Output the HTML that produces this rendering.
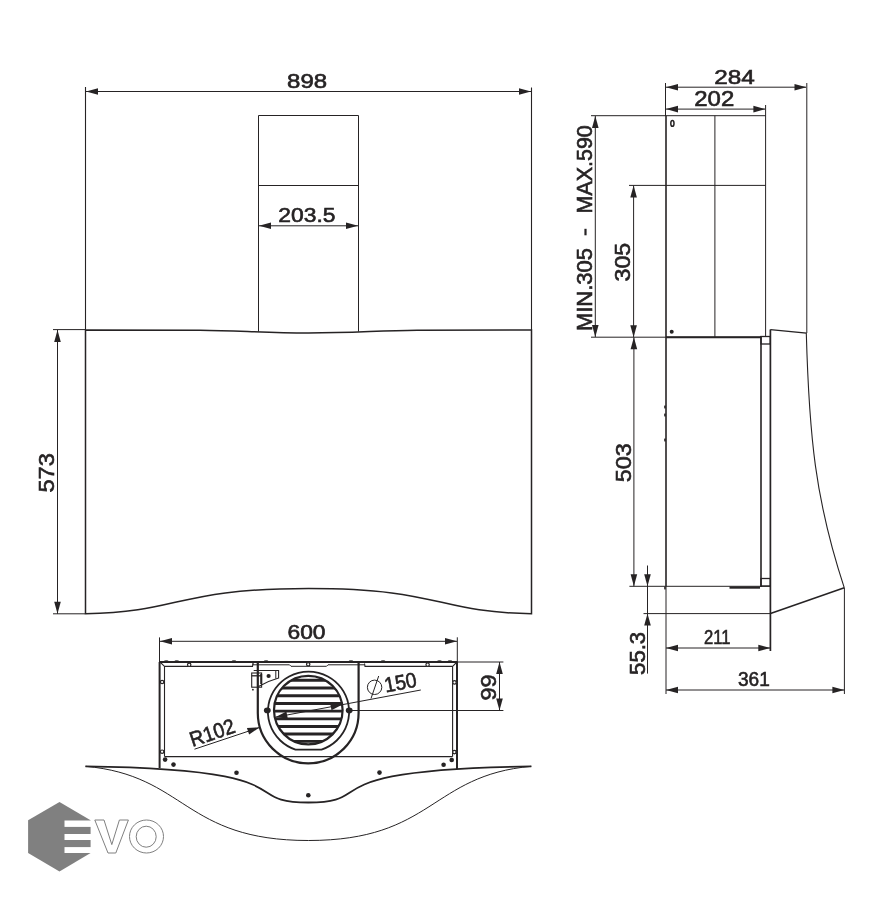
<!DOCTYPE html>
<html><head><meta charset="utf-8"><style>
html,body{margin:0;padding:0;background:#fff;width:893px;height:900px;overflow:hidden}
svg{display:block;will-change:transform}
text{font-family:"Liberation Sans",sans-serif}
</style></head><body>
<svg width="893" height="900" viewBox="0 0 893 900">
<rect width="893" height="900" fill="#fff"/>
<line x1="85.5" y1="87" x2="85.5" y2="330" stroke="#262324" stroke-width="1.1"/>
<line x1="531.5" y1="87.5" x2="531.5" y2="330" stroke="#262324" stroke-width="1.1"/>
<line x1="86" y1="91.5" x2="531" y2="91.5" stroke="#262324" stroke-width="1.0"/>
<polygon points="86.00,91.50 98.00,88.20 98.00,94.80" fill="#262324"/>
<polygon points="531.00,91.50 519.00,94.80 519.00,88.20" fill="#262324"/>
<text x="307.10" y="87.84" font-size="20.42" text-anchor="middle" textLength="40.02" lengthAdjust="spacingAndGlyphs" fill="#262324" stroke="#262324" stroke-width="0.6">898</text>
<path d="M258.5,331.6 V115.5 H358.5 V331.6" fill="none" stroke="#262324" stroke-width="1"/>
<line x1="258.5" y1="185.5" x2="358.5" y2="185.5" stroke="#262324" stroke-width="1.0"/>
<line x1="259" y1="225.8" x2="358" y2="225.8" stroke="#262324" stroke-width="1.0"/>
<polygon points="259.00,225.80 271.00,222.50 271.00,229.10" fill="#262324"/>
<polygon points="358.00,225.80 346.00,229.10 346.00,222.50" fill="#262324"/>
<text x="306.95" y="222.34" font-size="20.28" text-anchor="middle" textLength="57.12" lengthAdjust="spacingAndGlyphs" fill="#262324" stroke="#262324" stroke-width="0.6">203.5</text>
<path d="M85.5,330 L200,330.2 C240,330.5 262,333 308.5,333 C355,333 377,330.5 417,330.2 L531.5,330 L531.5,613.8 C434.9,612.1 441.7,588.5 308.5,588.5 C175.3,588.5 182.1,612.1 85.5,613.8 Z" fill="none" stroke="#262324" stroke-width="1.5"/>
<line x1="53" y1="329.6" x2="85" y2="329.6" stroke="#262324" stroke-width="1.0"/>
<line x1="53" y1="613.8" x2="85" y2="613.8" stroke="#262324" stroke-width="1.0"/>
<line x1="57.5" y1="330" x2="57.5" y2="613.8" stroke="#262324" stroke-width="1.0"/>
<polygon points="57.50,330.00 60.80,342.00 54.20,342.00" fill="#262324"/>
<polygon points="57.50,613.80 54.20,601.80 60.80,601.80" fill="#262324"/>
<text transform="translate(53.80,472.85) rotate(-90)" x="0" y="0" font-size="21.40" text-anchor="middle" textLength="39.52" lengthAdjust="spacingAndGlyphs" fill="#262324" stroke="#262324" stroke-width="0.6">573</text>
<line x1="665.5" y1="83" x2="665.5" y2="116" stroke="#262324" stroke-width="1.0"/>
<line x1="806.8" y1="83" x2="806.8" y2="333" stroke="#262324" stroke-width="1.0"/>
<line x1="666" y1="87.2" x2="806" y2="87.2" stroke="#262324" stroke-width="1.0"/>
<polygon points="666.00,87.20 678.00,83.90 678.00,90.50" fill="#262324"/>
<polygon points="806.50,87.20 794.50,90.50 794.50,83.90" fill="#262324"/>
<text x="734.60" y="84.04" font-size="21.12" text-anchor="middle" textLength="40.62" lengthAdjust="spacingAndGlyphs" fill="#262324" stroke="#262324" stroke-width="0.6">284</text>
<line x1="765.6" y1="105" x2="765.6" y2="336" stroke="#262324" stroke-width="1.0"/>
<line x1="666" y1="109.1" x2="765" y2="109.1" stroke="#262324" stroke-width="1.0"/>
<polygon points="666.00,109.10 678.00,105.80 678.00,112.40" fill="#262324"/>
<polygon points="765.40,109.10 753.40,112.40 753.40,105.80" fill="#262324"/>
<text x="714.30" y="105.94" font-size="21.82" text-anchor="middle" textLength="40.02" lengthAdjust="spacingAndGlyphs" fill="#262324" stroke="#262324" stroke-width="0.6">202</text>
<line x1="591" y1="115.7" x2="765.6" y2="115.7" stroke="#262324" stroke-width="1.0"/>
<line x1="629" y1="185.4" x2="765.6" y2="185.4" stroke="#262324" stroke-width="1.0"/>
<line x1="666" y1="115.7" x2="666" y2="586.5" stroke="#262324" stroke-width="1.6"/>
<line x1="666" y1="586.5" x2="666" y2="694" stroke="#262324" stroke-width="1.0"/>
<ellipse cx="665" cy="407" rx="0.9" ry="1.8" fill="#262324"/>
<ellipse cx="665" cy="415" rx="0.9" ry="1.8" fill="#262324"/>
<ellipse cx="665" cy="440" rx="0.9" ry="1.8" fill="#262324"/>
<ellipse cx="665" cy="588" rx="0.9" ry="1.8" fill="#262324"/>
<line x1="714.9" y1="115.7" x2="714.9" y2="337" stroke="#262324" stroke-width="1.0"/>
<ellipse cx="672.4" cy="123.4" rx="1.6" ry="2.9" fill="none" stroke="#262324" stroke-width="1.5"/>
<circle cx="671.7" cy="331.8" r="2" fill="#262324"/>
<line x1="591" y1="337.2" x2="761" y2="337.2" stroke="#262324" stroke-width="1.0"/>
<line x1="666" y1="337.2" x2="761" y2="337.2" stroke="#262324" stroke-width="2.0"/>
<line x1="761" y1="336" x2="761" y2="587" stroke="#262324" stroke-width="1.6"/>
<line x1="770.4" y1="329.6" x2="770.4" y2="651" stroke="#262324" stroke-width="1.7"/>
<rect x="761" y="336.5" width="9.3" height="7.5" fill="none" stroke="#262324" stroke-width="1.3"/>
<rect x="761" y="578.5" width="9.3" height="7.5" fill="none" stroke="#262324" stroke-width="1.3"/>
<line x1="629.4" y1="586.3" x2="770" y2="586.3" stroke="#262324" stroke-width="1.0"/>
<line x1="729.5" y1="587.6" x2="760" y2="587.6" stroke="#262324" stroke-width="2.2"/>
<line x1="643.5" y1="613.6" x2="770.5" y2="613.6" stroke="#262324" stroke-width="1.0"/>
<path d="M770.4,329.6 L806.3,333.1 C809.1,435 815.1,499.5 844.3,587.8 " fill="none" stroke="#262324" stroke-width="1.1"/>
<path d="M844.3,587.8 L770.5,613.5" fill="none" stroke="#262324" stroke-width="1.5"/>
<line x1="844.4" y1="588" x2="844.4" y2="694" stroke="#262324" stroke-width="1.0"/>
<line x1="595.3" y1="116" x2="595.3" y2="337" stroke="#262324" stroke-width="1.0"/>
<polygon points="595.30,116.00 598.60,128.00 592.00,128.00" fill="#262324"/>
<polygon points="595.30,337.00 592.00,325.00 598.60,325.00" fill="#262324"/>
<text transform="translate(592.10,289.50) rotate(-90)" x="0" y="0" font-size="21.68" text-anchor="middle" textLength="83.22" lengthAdjust="spacingAndGlyphs" fill="#262324" stroke="#262324" stroke-width="0.6">MIN.305</text>
<text transform="translate(592.10,169.35) rotate(-90)" x="0" y="0" font-size="21.68" text-anchor="middle" textLength="88.32" lengthAdjust="spacingAndGlyphs" fill="#262324" stroke="#262324" stroke-width="0.6">MAX.590</text>
<line x1="585.5" y1="228.8" x2="585.5" y2="235.3" stroke="#262324" stroke-width="2.2"/>
<line x1="633.6" y1="185.5" x2="633.6" y2="337" stroke="#262324" stroke-width="1.0"/>
<polygon points="633.60,185.50 636.90,197.50 630.30,197.50" fill="#262324"/>
<polygon points="633.60,337.20 630.30,325.20 636.90,325.20" fill="#262324"/>
<text transform="translate(630.00,262.10) rotate(-90)" x="0" y="0" font-size="21.68" text-anchor="middle" textLength="38.82" lengthAdjust="spacingAndGlyphs" fill="#262324" stroke="#262324" stroke-width="0.6">305</text>
<line x1="633.9" y1="337.2" x2="633.9" y2="586.3" stroke="#262324" stroke-width="1.0"/>
<polygon points="633.90,337.20 637.20,349.20 630.60,349.20" fill="#262324"/>
<polygon points="633.90,586.30 630.60,574.30 637.20,574.30" fill="#262324"/>
<text transform="translate(630.60,462.75) rotate(-90)" x="0" y="0" font-size="21.68" text-anchor="middle" textLength="39.12" lengthAdjust="spacingAndGlyphs" fill="#262324" stroke="#262324" stroke-width="0.6">503</text>
<line x1="647.5" y1="565.5" x2="647.5" y2="673.6" stroke="#262324" stroke-width="1.0"/>
<polygon points="647.50,586.30 644.20,574.30 650.80,574.30" fill="#262324"/>
<polygon points="647.50,613.60 650.80,625.60 644.20,625.60" fill="#262324"/>
<text transform="translate(644.70,653.40) rotate(-90)" x="0" y="0" font-size="22.51" text-anchor="middle" textLength="43.02" lengthAdjust="spacingAndGlyphs" fill="#262324" stroke="#262324" stroke-width="0.6">55.3</text>
<line x1="666" y1="648" x2="770.3" y2="648" stroke="#262324" stroke-width="1.0"/>
<polygon points="666.00,648.00 678.00,644.70 678.00,651.30" fill="#262324"/>
<polygon points="770.30,648.00 758.30,651.30 758.30,644.70" fill="#262324"/>
<text x="717.25" y="644.14" font-size="20.00" text-anchor="middle" textLength="26.52" lengthAdjust="spacingAndGlyphs" fill="#262324" stroke="#262324" stroke-width="0.6">211</text>
<line x1="666" y1="690" x2="844.4" y2="690" stroke="#262324" stroke-width="1.0"/>
<polygon points="666.00,690.00 678.00,686.70 678.00,693.30" fill="#262324"/>
<polygon points="844.40,690.00 832.40,693.30 832.40,686.70" fill="#262324"/>
<text x="753.90" y="686.44" font-size="20.42" text-anchor="middle" textLength="31.82" lengthAdjust="spacingAndGlyphs" fill="#262324" stroke="#262324" stroke-width="0.6">361</text>
<line x1="159.5" y1="637.4" x2="159.5" y2="662" stroke="#262324" stroke-width="1.0"/>
<line x1="457.3" y1="637.3" x2="457.3" y2="662" stroke="#262324" stroke-width="1.0"/>
<line x1="160" y1="641.3" x2="457" y2="641.3" stroke="#262324" stroke-width="1.0"/>
<polygon points="160.00,641.30 172.00,638.00 172.00,644.60" fill="#262324"/>
<polygon points="457.00,641.30 445.00,644.60 445.00,638.00" fill="#262324"/>
<text x="306.50" y="638.64" font-size="19.30" text-anchor="middle" textLength="38.02" lengthAdjust="spacingAndGlyphs" fill="#262324" stroke="#262324" stroke-width="0.6">600</text>
<line x1="159.6" y1="662" x2="159.6" y2="768" stroke="#262324" stroke-width="2.0"/>
<line x1="457" y1="662" x2="457" y2="769" stroke="#262324" stroke-width="2.0"/>
<line x1="159" y1="662" x2="457.5" y2="662" stroke="#262324" stroke-width="2.0"/>
<path d="M160,662 L164.5,666.4 L164.5,756.5" fill="none" stroke="#262324" stroke-width="1.1"/>
<path d="M457,662 L452.6,666.4 L452.6,756.5" fill="none" stroke="#262324" stroke-width="1.1"/>
<path d="M164.5,666.4 L252.5,666.4 L253,663.5 M364.5,663.5 L365,666.4 L452.6,666.4" fill="none" stroke="#262324" stroke-width="1.1"/>
<line x1="164.5" y1="756.6" x2="452.6" y2="756.6" stroke="#262324" stroke-width="1.1"/>
<circle cx="189.2" cy="664.8" r="1.7" fill="#fff" stroke="#262324" stroke-width="1.2"/>
<circle cx="162.1" cy="682" r="1.7" fill="#fff" stroke="#262324" stroke-width="1.2"/>
<circle cx="162.1" cy="751.7" r="1.7" fill="#fff" stroke="#262324" stroke-width="1.2"/>
<circle cx="427.6" cy="664.7" r="1.7" fill="#fff" stroke="#262324" stroke-width="1.2"/>
<circle cx="454.5" cy="682.4" r="1.7" fill="#fff" stroke="#262324" stroke-width="1.2"/>
<circle cx="454.4" cy="752.1" r="1.7" fill="#fff" stroke="#262324" stroke-width="1.2"/>
<circle cx="308.2" cy="664.3" r="1.7" fill="#fff" stroke="#262324" stroke-width="1.2"/>
<circle cx="165.1" cy="759.6" r="2.3" fill="#262324"/>
<circle cx="173.5" cy="764.6" r="2.3" fill="#262324"/>
<circle cx="451.7" cy="760" r="2.3" fill="#262324"/>
<circle cx="443.6" cy="764.7" r="2.3" fill="#262324"/>
<circle cx="236.5" cy="772.8" r="2.3" fill="#262324"/>
<circle cx="379.5" cy="772.6" r="2.3" fill="#262324"/>
<circle cx="308.3" cy="795.2" r="2.3" fill="#262324"/>
<ellipse cx="166.3" cy="661.2" rx="2.3" ry="1.1" fill="#262324" opacity="0.7"/>
<ellipse cx="176.7" cy="661.2" rx="2.3" ry="1.1" fill="#262324" opacity="0.7"/>
<ellipse cx="234" cy="661.2" rx="2.3" ry="1.1" fill="#262324" opacity="0.7"/>
<ellipse cx="266.1" cy="661.2" rx="2.3" ry="1.1" fill="#262324" opacity="0.7"/>
<ellipse cx="351" cy="661.2" rx="2.3" ry="1.1" fill="#262324" opacity="0.7"/>
<ellipse cx="383.1" cy="661.2" rx="2.3" ry="1.1" fill="#262324" opacity="0.7"/>
<ellipse cx="439.5" cy="661.2" rx="2.3" ry="1.1" fill="#262324" opacity="0.7"/>
<ellipse cx="450" cy="661.2" rx="2.3" ry="1.1" fill="#262324" opacity="0.7"/>
<line x1="457" y1="710.5" x2="503.4" y2="710.5" stroke="#262324" stroke-width="1.0"/>
<line x1="457" y1="662" x2="503.4" y2="662" stroke="#262324" stroke-width="1.0"/>
<line x1="499.5" y1="662" x2="499.5" y2="710.5" stroke="#262324" stroke-width="1.0"/>
<polygon points="499.50,662.00 502.80,674.00 496.20,674.00" fill="#262324"/>
<polygon points="499.50,710.50 496.20,698.50 502.80,698.50" fill="#262324"/>
<text transform="translate(495.80,687.40) rotate(-90)" x="0" y="0" font-size="21.54" text-anchor="middle" textLength="26.22" lengthAdjust="spacingAndGlyphs" fill="#262324" stroke="#262324" stroke-width="0.6">99</text>
<path d="M257.8,662 L257.8,713 A50.4,50.4 0 0 0 358.6,713 L358.6,662" fill="none" stroke="#262324" stroke-width="2.2"/>
<line x1="350" y1="710.5" x2="457" y2="710.5" stroke="#262324" stroke-width="1.0"/>
<path d="M253,662.5 L253,664.8 L289.5,664.8 L291,666.3 L326.5,666.3 L328,664.8 L364.5,664.8" fill="none" stroke="#262324" stroke-width="1"/>
<path d="M295.5,749.6 A40.6,40 0 1 1 321.5,749.6 Z" fill="none" stroke="#262324" stroke-width="1.8"/>
<clipPath id="gc"><circle cx="308.3" cy="710.1" r="34.8"/></clipPath>
<circle cx="308.3" cy="710.1" r="34.3" fill="none" stroke="#262324" stroke-width="2.2"/>
<g clip-path="url(#gc)">
<line x1="270" y1="680.2" x2="347" y2="680.2" stroke="#262324" stroke-width="2.9"/>
<line x1="270" y1="688" x2="347" y2="688" stroke="#262324" stroke-width="2.9"/>
<line x1="270" y1="695.7" x2="347" y2="695.7" stroke="#262324" stroke-width="2.9"/>
<line x1="270" y1="703.5" x2="347" y2="703.5" stroke="#262324" stroke-width="2.9"/>
<line x1="270" y1="711.1" x2="347" y2="711.1" stroke="#262324" stroke-width="2.9"/>
<line x1="270" y1="718.9" x2="347" y2="718.9" stroke="#262324" stroke-width="2.9"/>
<line x1="270" y1="726.5" x2="347" y2="726.5" stroke="#262324" stroke-width="2.9"/>
<line x1="270" y1="734" x2="347" y2="734" stroke="#262324" stroke-width="2.9"/>
<line x1="270" y1="741.4" x2="347" y2="741.4" stroke="#262324" stroke-width="2.9"/>
</g>
<ellipse cx="267.3" cy="710.4" rx="3.4" ry="2.8" fill="#262324"/>
<ellipse cx="349.2" cy="710.4" rx="3.4" ry="2.8" fill="#262324"/>
<rect x="251.7" y="673" width="9.9" height="14.2" fill="none" stroke="#262324" stroke-width="1.1"/>
<line x1="251.7" y1="675.8" x2="261.6" y2="675.8" stroke="#262324" stroke-width="1.3"/>
<line x1="261.2" y1="674" x2="261.2" y2="684" stroke="#262324" stroke-width="2.0"/>
<path d="M253.7,670.5 L278.6,670.5 L278.6,678 Q268,681 258.5,686.4" fill="none" stroke="#262324" stroke-width="1.1"/>
<line x1="275.8" y1="671" x2="275.8" y2="678.6" stroke="#262324" stroke-width="1.0"/>
<circle cx="268.6" cy="676" r="2.1" fill="#262324"/>
<circle cx="252.9" cy="689.7" r="0.9" fill="#262324"/>
<line x1="275.3" y1="717.2" x2="420.8" y2="690" stroke="#262324" stroke-width="1.0"/>
<polygon points="275.30,717.20 286.43,711.46 287.76,718.53" fill="#262324"/>
<polygon points="342.60,704.60 331.47,710.34 330.14,703.27" fill="#262324"/>
<circle cx="374.6" cy="687.3" r="7.2" fill="none" stroke="#262324" stroke-width="1"/>
<line x1="378.7" y1="676" x2="371" y2="698.5" stroke="#262324" stroke-width="1.0"/>
<text transform="translate(401.80,689.50) rotate(-10.6)" x="0" y="0" font-size="21.00" text-anchor="middle" textLength="32.50" lengthAdjust="spacingAndGlyphs" fill="#262324" stroke="#262324" stroke-width="0.6">150</text>
<line x1="194.5" y1="749.2" x2="259.2" y2="727.6" stroke="#262324" stroke-width="1.0"/>
<polygon points="259.40,727.40 249.13,734.52 246.91,727.88" fill="#262324"/>
<text transform="translate(214.50,739.50) rotate(-18.5)" x="0" y="0" font-size="21.00" text-anchor="middle" textLength="46.50" lengthAdjust="spacingAndGlyphs" fill="#262324" stroke="#262324" stroke-width="0.6">R102</text>
<path d="M85.5,766.4 C312.5,769.5 236.3,802.5 308.4,802.5 C380.5,802.5 304.3,769.5 531.3,766.4" fill="none" stroke="#262324" stroke-width="1.8"/>
<path d="M85.4,766.3 C186.3,775.3 183.4,840.5 308.4,840.5 C433.4,840.5 430.5,775.3 531.4,766.3" fill="none" stroke="#262324" stroke-width="1.0"/>
<polygon points="59.5,802.1 90.6,820.2 90.6,853 59.5,871.5 28.1,853 28.1,820.2" fill="#808080"/>
<rect x="64.5" y="820.5" width="28" height="6.399999999999977" fill="#fff"/>
<rect x="64.5" y="834" width="28" height="6" fill="#fff"/>
<rect x="64.5" y="847.1" width="28" height="5.899999999999977" fill="#fff"/>
<polygon points="94.8,820 104,820 111.8,844.6 119.4,820 128.4,820 115.8,853 108,853" fill="none" stroke="#808080" stroke-width="1"/>
<ellipse cx="146.5" cy="836.5" rx="17" ry="16.5" fill="none" stroke="#808080" stroke-width="1"/>
<ellipse cx="146.2" cy="836.7" rx="10" ry="10.5" fill="none" stroke="#808080" stroke-width="1"/>
</svg>
</body></html>
